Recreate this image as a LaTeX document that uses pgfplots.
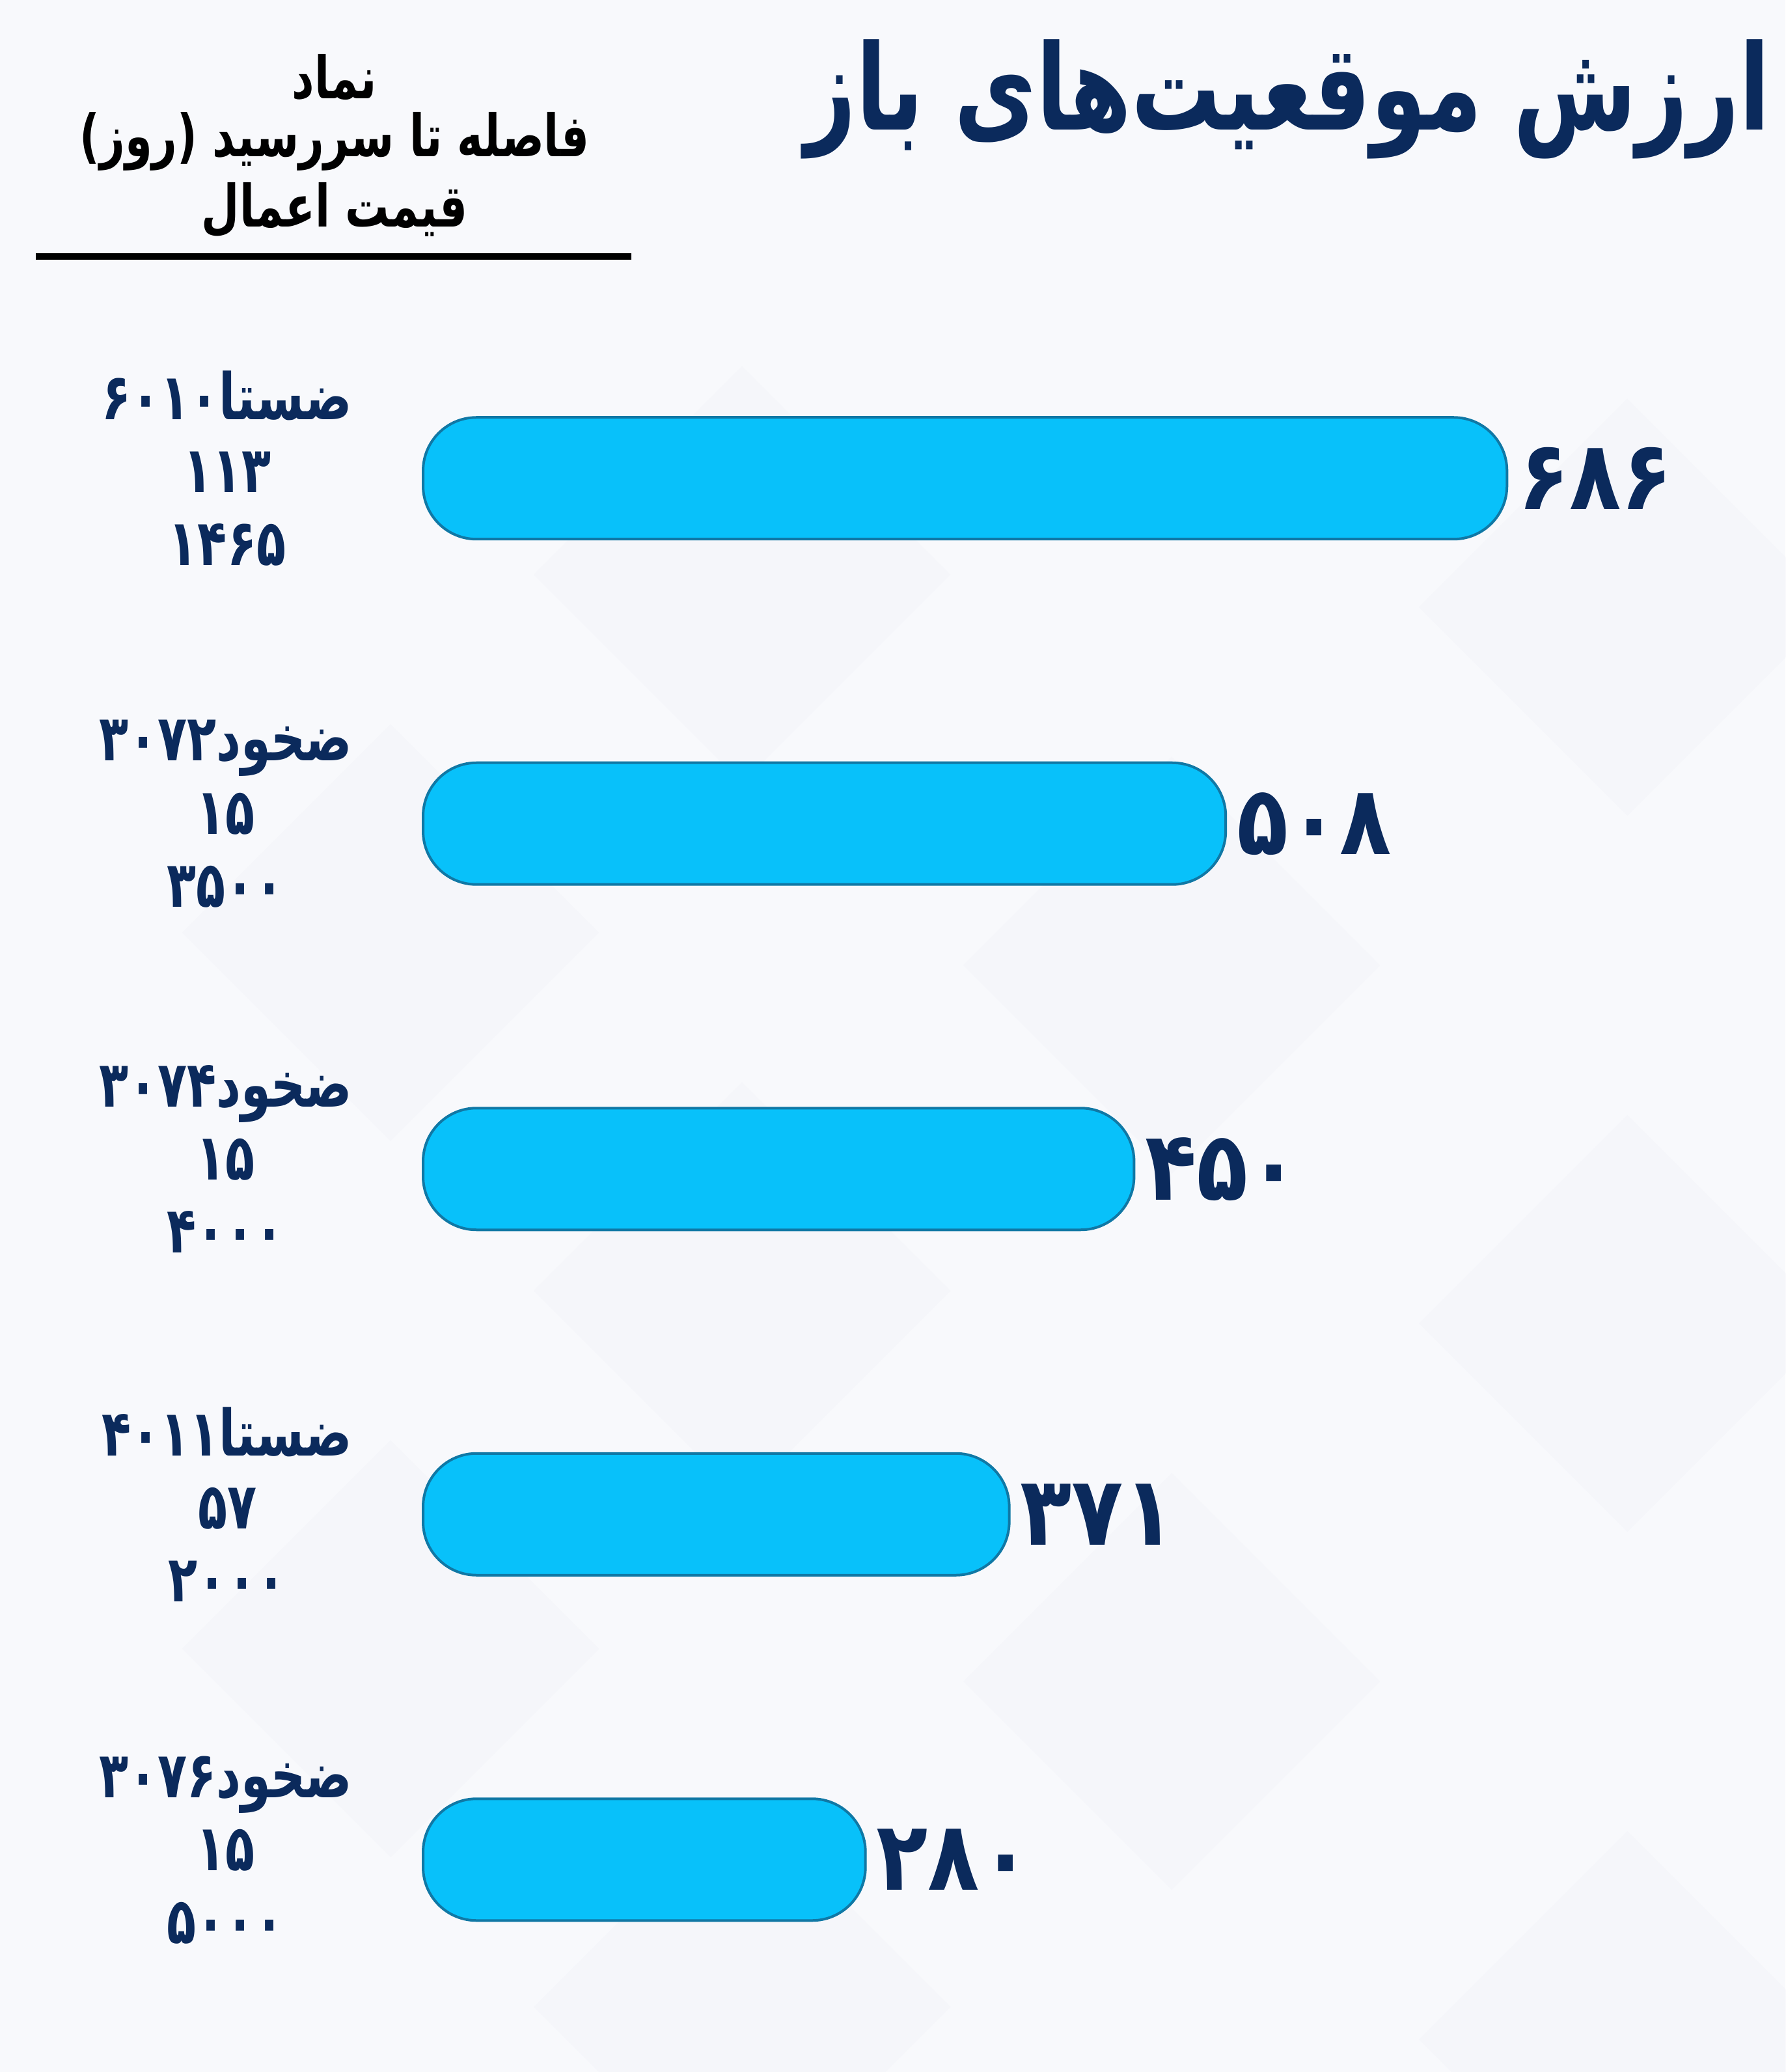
\documentclass[border=0pt]{standalone}
\usepackage{pgfplots}
\usepackage{pgfplotstable}
\pgfplotsset{compat=1.18}
\usepackage{fontspec}
\setmainfont{DejaVu Sans}
\newfontfamily\arabicfont[Script=Arabic, FakeStretch=0.75]{DejaVu Sans}
\newfontfamily\numfont[Script=Arabic, FakeStretch=0.88]{DejaVu Sans}
\TeXXeTstate=1
\definecolor{navy}{RGB}{11,42,92}
\definecolor{barfill}{RGB}{8,193,250}
\definecolor{baredge}{RGB}{16,120,165}
\definecolor{bg}{RGB}{248,249,252}
\definecolor{bgd}{RGB}{240,241,247}

\def\fadone#1{\ifcase#1 ۰\or ۱\or ۲\or ۳\or ۴\or ۵\or ۶\or ۷\or ۸\or ۹\fi}
\def\fadigitsloop#1{\ifx#1\relax\else\fadone{#1}\expandafter\fadigitsloop\fi}
\newcommand\fadigits[1]{\edef\tmpnum{#1}\expandafter\fadigitsloop\tmpnum\relax}

\pgfplotstableread{
idx value
0 686
1 508
2 450
3 371
4 280
}\datatable

\begin{document}
\begin{tikzpicture}[x=1mm,y=1mm]
\useasboundingbox (0,0) rectangle (274.3,318.3);
\fill[bg] (0,0) rectangle (274.3,318.3);
% faint background diamonds
\foreach \cx/\cy in {114/230, 250/225, 60/175, 180/170, 114/120, 250/115, 60/65, 180/60, 114/10, 250/5}
  \fill[bgd, opacity=0.35] (\cx,\cy+32) -- (\cx+32,\cy) -- (\cx,\cy-32) -- (\cx-32,\cy) -- cycle;
\node[anchor=east, text=navy, inner sep=0pt] at (272,303.1)
  {\arabicfont\bfseries\fontsize{52}{60}\selectfont\beginR ارزش موقعیت‌های باز\endR};
\node[inner sep=0pt] at (51.4,306.4) {\arabicfont\bfseries\fontsize{25.5}{30}\selectfont\beginR نماد\endR};
\node[inner sep=0pt] at (51.4,296.6) {\arabicfont\bfseries\fontsize{25.5}{30}\selectfont\beginR فاصله تا سررسید (روز)\endR};
\node[inner sep=0pt] at (51.4,286.0) {\arabicfont\bfseries\fontsize{25.5}{30}\selectfont\beginR قیمت اعمال\endR};
\draw[line width=1mm] (5.5,278.9) -- (97,278.9);
\begin{axis}[
  at={(65mm,6.1mm)}, anchor=south west,
  scale only axis, width=194.2mm, height=265.25mm,
  xbar, xmin=0, xmax=800, ymin=-0.5, ymax=4.5, y dir=reverse,
  bar width=18.7mm,
  axis line style={draw=none}, tick style={draw=none}, major tick length=0pt,
  xtick=\empty, ytick={0,1,2,3,4},
  yticklabels={
    {\beginR ضستا۶۰۱۰\endR\\\beginR ۱۱۳\endR\\\beginR ۱۴۶۵\endR},
    {\beginR ضخود۳۰۷۲\endR\\\beginR ۱۵\endR\\\beginR ۳۵۰۰\endR},
    {\beginR ضخود۳۰۷۴\endR\\\beginR ۱۵\endR\\\beginR ۴۰۰۰\endR},
    {\beginR ضستا۴۰۱۱\endR\\\beginR ۵۷\endR\\\beginR ۲۰۰۰\endR},
    {\beginR ضخود۳۰۷۶\endR\\\beginR ۱۵\endR\\\beginR ۵۰۰۰\endR}},
  yticklabel style={align=center, text=navy, inner sep=0pt, xshift=-10.8mm, yshift=1.5mm,
    font=\arabicfont\bfseries\fontsize{28}{31.9}\selectfont},
  clip=false,
  nodes near coords={\fadigits{\pgfplotspointmeta}}, point meta=explicit symbolic,
  nodes near coords style={anchor=west, text=navy, inner sep=0pt, xshift=1.5mm,
    font=\numfont\bfseries\fontsize{42}{42}\selectfont},
]
\addplot[fill=barfill, draw=baredge, line width=0.4mm, rounded corners=8.2mm]
  table[x=value, y=idx, meta=value] \datatable;
\end{axis}
\end{tikzpicture}
\end{document}
